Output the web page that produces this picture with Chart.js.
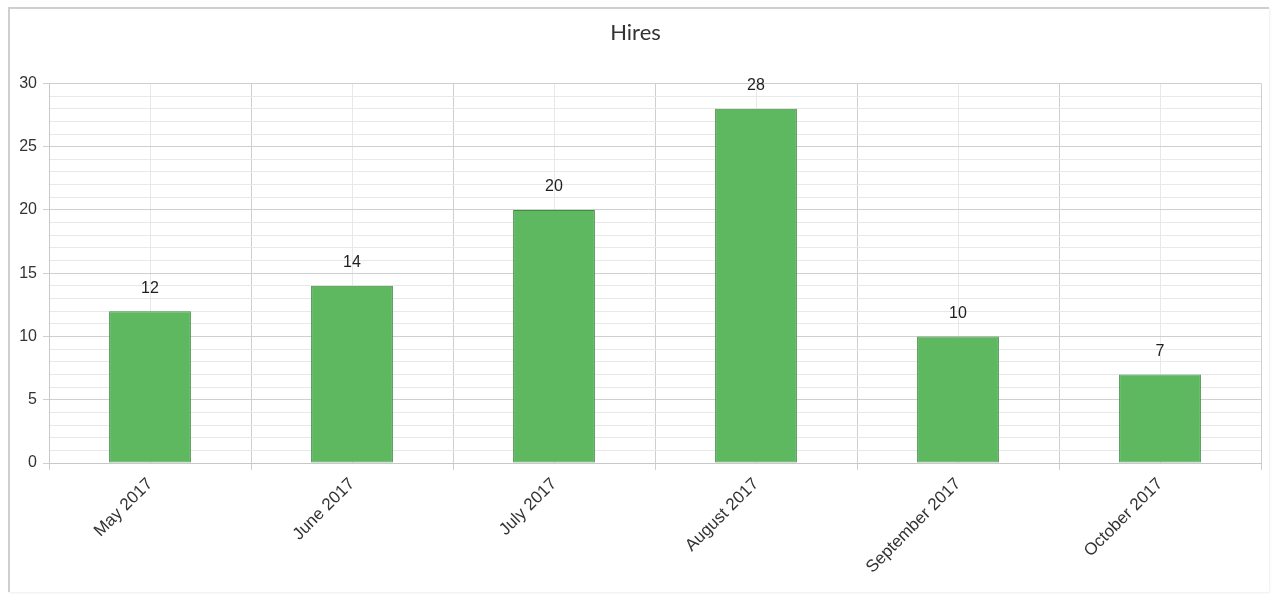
<!DOCTYPE html>
<html>
<head>
<meta charset="utf-8">
<script src="https://cdn.jsdelivr.net/npm/chart.js@4"></script>
<style>
  body { margin: 0; background: #fff; }
  #panel {
    position: absolute; left: 8px; top: 7px; width: 1259px; height: 583px;
    border-left: 2px solid #cfcfcf; border-top: 2px solid #cfcfcf;
    box-shadow: 1px 1px 2px rgba(0,0,0,0.07);
  }
  #panel canvas { display: block; }
</style>
</head>
<body>
<div id="panel"><canvas id="myChart" width="1259" height="583"></canvas></div>
<script>
// chart values
var months = ["May 2017", "June 2017", "July 2017", "August 2017", "September 2017", "October 2017"];
var hires = [12, 14, 20, 28, 10, 7];
var yMin = 0;
var yMax = 30;

// little plugin that writes the value over each bar
const valueLabels = {
  id: "valueLabels",
  afterDatasetsDraw(chart) {
    const ctx = chart.ctx;
    const meta = chart.getDatasetMeta(0);
    ctx.save();
    ctx.font = "16px 'Liberation Sans', Arial, sans-serif";
    ctx.fillStyle = "#1e1e1e";
    ctx.textAlign = "center";
    ctx.textBaseline = "middle";
    meta.data.forEach((bar, i) => {
      ctx.fillText(hires[i], bar.x, bar.y - 23);
    });
    ctx.restore();
  }
};

const data = {
  labels: months,
  datasets: [
    {
      label: "Hires",
      data: hires,
      backgroundColor: "rgb(94, 184, 96)",
      borderColor: "rgb(66, 140, 68)",
      borderWidth: 1,
      borderSkipped: false,
      categoryPercentage: 1,
      barPercentage: 0.405,
      xAxisID: "x",
      yAxisID: "y",
    }
  ]
};

const config = {
  type: "bar",
  data: data,
  plugins: [valueLabels],
  options: {
    responsive: false,
    animation: false,
    layout: { padding: { left: 0, right: 8, top: 0, bottom: 0 } },
    plugins: {
      legend: { display: false },
      tooltip: { enabled: false },
      title: {
        display: true,
        text: "Hires",
        color: "#333",
        font: { family: "Lato, 'Liberation Sans', sans-serif", size: 22, weight: "normal" },
        padding: { top: 11, bottom: 37 }
      }
    },
    scales: {
      x: {
        position: "bottom",
        offset: true,
        grid: { offset: true, color: "#cfcfcf", lineWidth: 1, tickLength: 7 },
        border: { color: "#c8c8c8" },
        ticks: {
          color: "#333",
          font: { family: "'Liberation Sans', Arial, sans-serif", size: 17 },
          minRotation: 45, maxRotation: 45, padding: 4
        },
        afterFit(scale) { scale.height = 129; }
      },
      x2: {
        position: "bottom",
        offset: true,
        grid: { offset: false, color: "#e8e8e8", drawTicks: false },
        border: { display: false },
        ticks: { display: false },
        afterFit(scale) { scale.height = 0; }
      },
      y: {
        min: yMin, max: yMax,
        grid: { color: "#cfcfcf", tickLength: 6 },
        border: { color: "#c8c8c8" },
        ticks: {
          stepSize: 5, padding: 6, color: "#333",
          font: { family: "'Liberation Sans', Arial, sans-serif", size: 16 }
        },
        afterFit(scale) { scale.width = 39; }
      },
      y2: {
        min: yMin, max: yMax,
        position: "left",
        grid: {
          drawTicks: false,
          color: (c) => (c.tick && c.tick.value % 5 === 0) ? "rgba(0,0,0,0)" : "#e8e8e8"
        },
        border: { display: false },
        ticks: { display: false, stepSize: 1 },
        afterFit(scale) { scale.width = 0; }
      }
    }
  }
};

new Chart(document.getElementById("myChart"), config);
</script>
</body>
</html>
